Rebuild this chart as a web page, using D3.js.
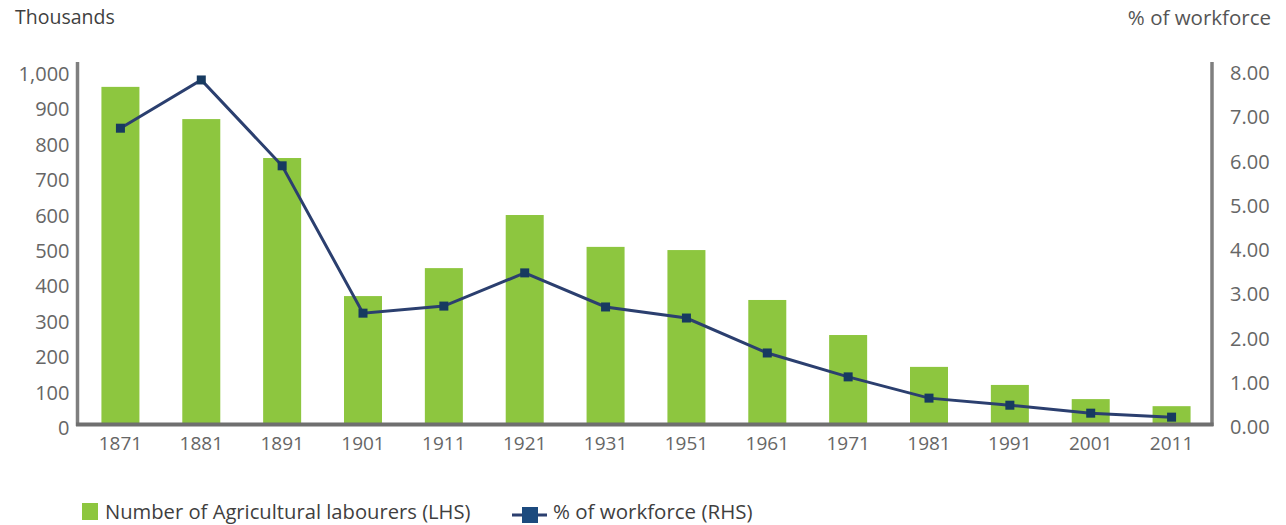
<!DOCTYPE html>
<html><head><meta charset="utf-8">
<script src="https://cdn.jsdelivr.net/npm/d3@7"></script>
<style>
body{margin:0;background:#fff;}
text{font-family:"Open Sans","DejaVu Sans",sans-serif;}
</style></head>
<body>
<svg id="chart" width="1286" height="525"></svg>
<script>
const years = ["1871","1881","1891","1901","1911","1921","1931","1951","1961","1971","1981","1991","2001","2011"];
const labourers = [958,867,757,367,446,596,506,497,356,257,167,116,76,56];
const workforcePct = [6.73,7.82,5.88,2.55,2.71,3.46,2.69,2.44,1.65,1.11,0.63,0.47,0.29,0.20];
const leftTicks = [0,100,200,300,400,500,600,700,800,900,1000];
const rightTicks = [0,1,2,3,4,5,6,7,8];
const seriesNames = ["Number of Agricultural labourers (LHS)","% of workforce (RHS)"];

(function(){
const svg = d3.select("#chart");
const bandL = 80, bandR = 1212, axL = 77.5, axR = 1212, pT = 72, pB = 426, axTop = 62;
const barColor = "#8dc63f", lineColor = "#2b3f6f", markerColor = "#173a60", axisColor = "#7f7f7f", tickColor = "#666666", labelColor = "#3f3f3f";

const x = d3.scaleBand().domain(years).range([bandL, bandR]).paddingInner(0.53).paddingOuter(0.265);
const yL = d3.scaleLinear().domain([0,1000]).range([pB, pT]);
const yR = d3.scaleLinear().domain([0,8]).range([pB, pT]);

// bars
svg.append("g").selectAll("rect").data(years).join("rect")
  .attr("x", d => x(d)).attr("width", x.bandwidth())
  .attr("y", (d,i) => yL(labourers[i])).attr("height", (d,i) => pB - yL(labourers[i]))
  .attr("fill", barColor);

// left axis
const gL = svg.append("g").attr("transform", `translate(${axL},0)`)
  .call(d3.axisLeft(yL).tickValues(leftTicks).tickSize(0).tickPadding(8).tickFormat(d3.format(",")));
gL.select(".domain").remove();
gL.selectAll("text").attr("fill", tickColor).attr("font-size", 20).attr("dy", "0.42em");

// right axis
const gR = svg.append("g").attr("transform", `translate(${axR},0)`)
  .call(d3.axisRight(yR).tickValues(rightTicks).tickSize(0).tickPadding(18).tickFormat(d3.format(".2f")));
gR.select(".domain").remove();
gR.selectAll("text").attr("fill", tickColor).attr("font-size", 20).attr("dy", "0.38em");

// bottom axis
const gB = svg.append("g").attr("transform", `translate(0,${pB})`)
  .call(d3.axisBottom(x).tickSize(0).tickPadding(11));
gB.select(".domain").remove();
gB.selectAll("text").attr("fill", tickColor).attr("font-size", 19);

// axis lines
svg.append("line").attr("x1", axL).attr("x2", axL).attr("y1", axTop).attr("y2", pB).attr("stroke", axisColor).attr("stroke-width", 3.5);
svg.append("line").attr("x1", axR).attr("x2", axR).attr("y1", axTop).attr("y2", pB).attr("stroke", axisColor).attr("stroke-width", 3.5);
svg.append("line").attr("x1", axL - 1.5).attr("x2", axR + 1.5).attr("y1", pB - 1.5).attr("y2", pB - 1.5).attr("stroke", "#6f6f6f").attr("stroke-width", 4);

// line
const line = d3.line().x((d,i) => x(years[i]) + x.bandwidth()/2).y(d => yR(d));
svg.append("path").datum(workforcePct).attr("d", line)
  .attr("fill", "none").attr("stroke", lineColor).attr("stroke-width", 3);
svg.append("g").selectAll("rect").data(workforcePct).join("rect")
  .attr("x", (d,i) => x(years[i]) + x.bandwidth()/2 - 4.5)
  .attr("y", d => yR(d) - 4.5).attr("width", 9).attr("height", 9)
  .attr("fill", markerColor);

// axis titles
svg.append("text").attr("x", 15).attr("y", 24).attr("font-size", 19.5).attr("fill", labelColor).text("Thousands");
svg.append("text").attr("x", 1271).attr("y", 25).attr("text-anchor", "end").attr("font-size", 20.5).attr("fill", "#555").text("% of workforce");

// legend
const lg = svg.append("g");
lg.append("rect").attr("x", 82).attr("y", 503).attr("width", 16).attr("height", 17).attr("fill", barColor);
lg.append("text").attr("x", 105).attr("y", 519).attr("font-size", 20.2).attr("fill", labelColor).text(seriesNames[0]);
lg.append("line").attr("x1", 512).attr("x2", 547).attr("y1", 515).attr("y2", 515).attr("stroke", lineColor).attr("stroke-width", 3);
lg.append("rect").attr("x", 522).attr("y", 507).attr("width", 16).attr("height", 16).attr("fill", "#1c4a7e");
lg.append("text").attr("x", 553).attr("y", 519).attr("font-size", 20.5).attr("fill", labelColor).text(seriesNames[1]);
})();
</script>
</body></html>
